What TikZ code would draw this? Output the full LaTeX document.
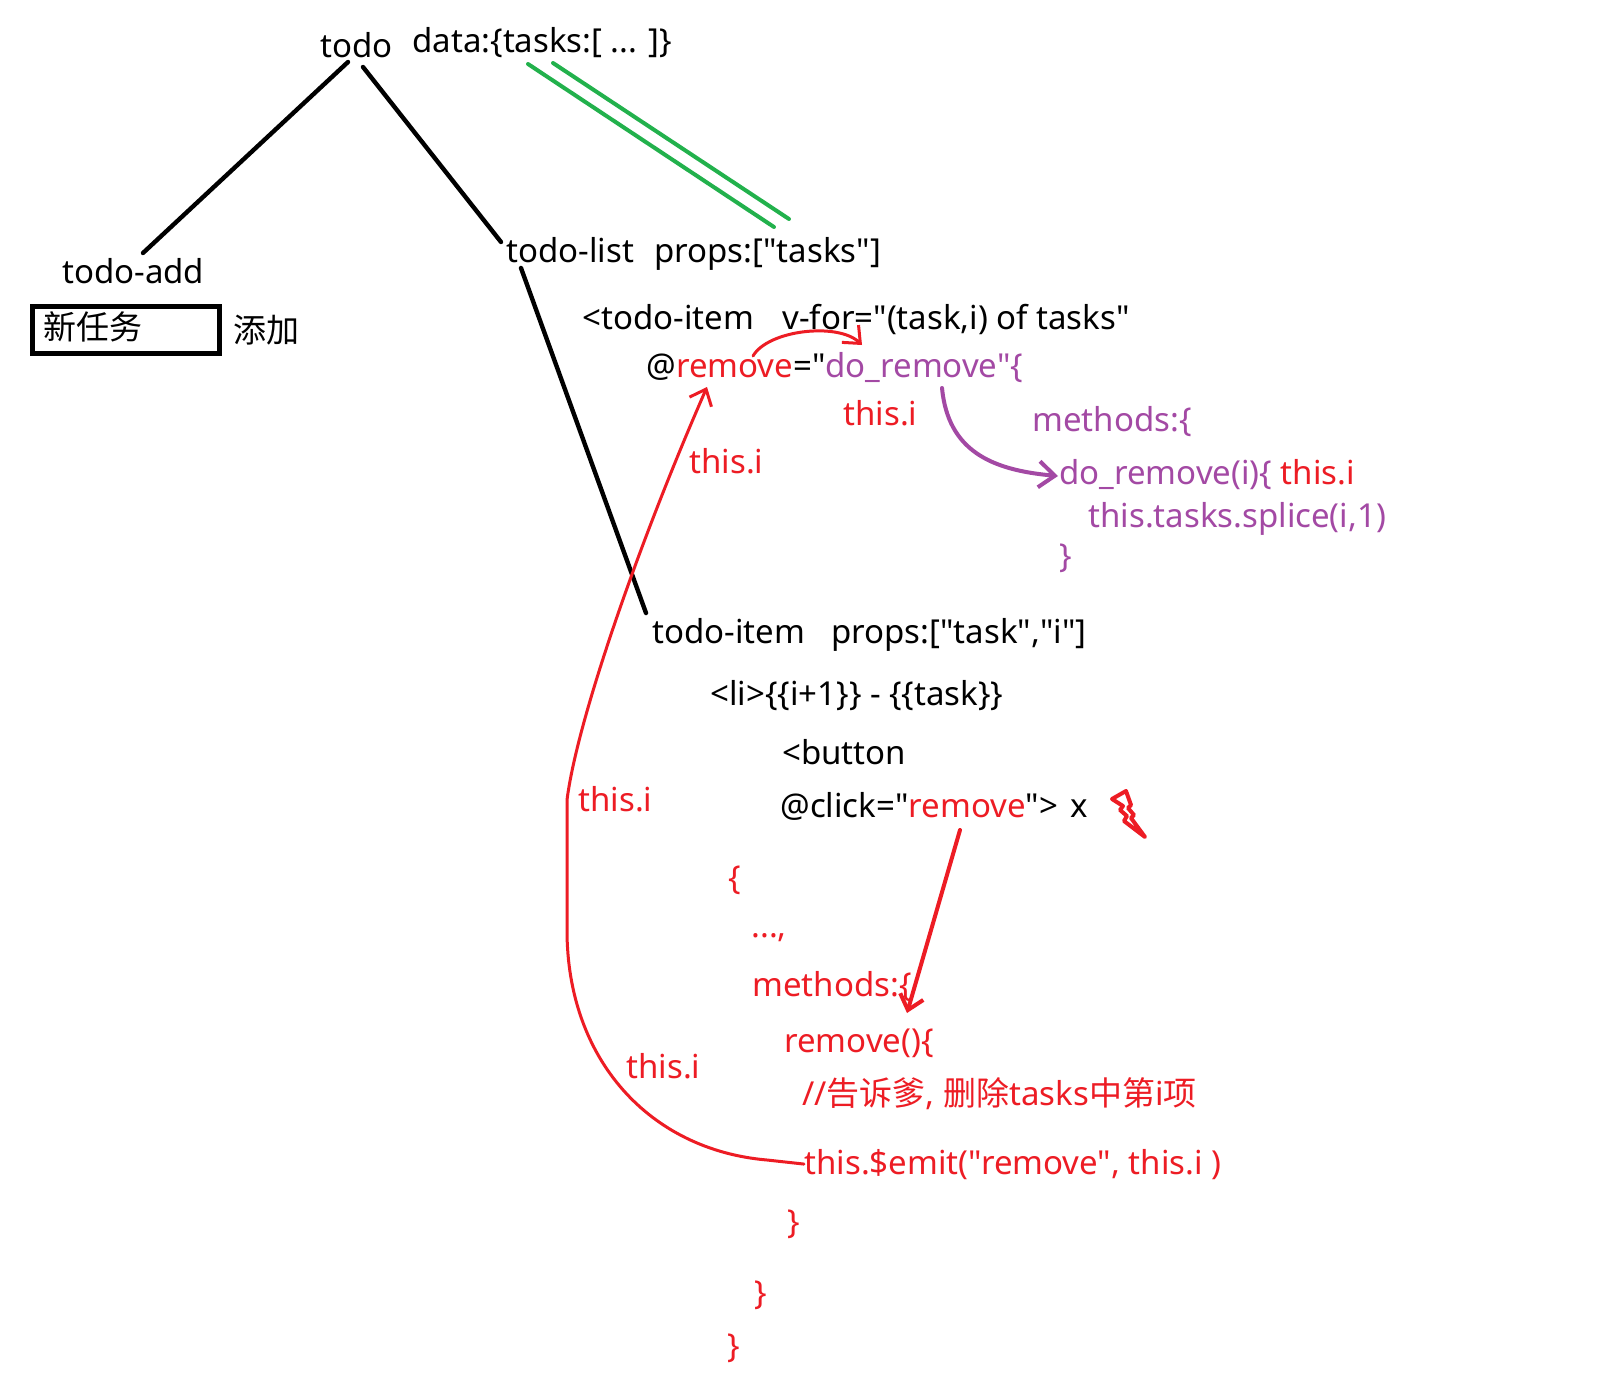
\documentclass[tikz,border=0pt]{standalone}
\usepackage{fontspec}
\setmainfont{Noto Sans}[Ligatures=TeXOff]
\newfontfamily\cjk{Noto Sans CJK SC}[Ligatures=TeXOff]
\usetikzlibrary{arrows.meta}

\definecolor{pred}{HTML}{ED1C24}
\definecolor{ppurple}{HTML}{A349A4}
\definecolor{pgreen}{HTML}{22B14C}

\tikzset{
  txt/.style={anchor=base west, inner sep=0pt, font=\fontsize{16.5}{20}\selectfont},
  treeline/.style={line width=2.2pt, line cap=round},
  linkline/.style={pgreen, line width=2pt, line cap=round},
  redpen/.style={pred, line width=1.5pt, line cap=round, line join=round},
  purplepen/.style={ppurple, line width=2pt, line cap=round, line join=round},
  barb/.style={-{Straight Barb[length=7pt,width=12pt,line width=1.5pt]}},
  inputbox/.style={draw, line width=2.5pt, minimum width=93.5pt, minimum height=23.5pt, inner sep=0pt}
}

\begin{document}
\begin{tikzpicture}[x=0.5pt, y=-0.5pt]
\fill[white] (0,0) rectangle (1602,1392);
\useasboundingbox (0,0) rectangle (1602,1392);

% component tree
\node[txt] (todo) at (320,57) {todo};
\node[txt] (data) at (412,53) {data:\{tasks:[ ... ]\}};
\node[txt] (add) at (62,283) {todo-add};
\node[inputbox] (input) at (126,330) {};
\node[txt] (newtask) at (43,339) {\cjk 新任务};
\node[txt] (addbtn) at (233,342) {\cjk 添加};
\node[txt] (list) at (506,262) {todo-list};
\node[txt] (listprops) at (654,262) {props:["tasks"]};

% todo-list template
\node[txt] (itemtag) at (582,329) {<todo-item};
\node[txt] (vfor) at (782,329) {v-for="(task,i) of tasks"};
\node[txt] (onremove) at (646,377) {@\textcolor{pred}{remove}="\textcolor{ppurple}{do\_remove"\{}};
\node[txt, text=pred] (ti1) at (843,425) {this.i};
\node[txt, text=ppurple] (pmethods) at (1032,431) {methods:\{};
\node[txt, text=pred] (ti2) at (689,473) {this.i};
\node[txt, text=ppurple] (doremove) at (1059,484) {do\_remove(i)\{ \textcolor{pred}{this.i}};
\node[txt, text=ppurple] (splice) at (1088,527) {this.tasks.splice(i,1)};
\node[txt, text=ppurple] (pclose) at (1059,567) {\}};

% todo-item template
\node[txt] (item) at (652,643) {todo-item};
\node[txt] (itemprops) at (831,643) {props:["task","i"]};
\node[txt] (li) at (710,705) {<li>\{\{i+1\}\} - \{\{task\}\}};
\node[txt] (button) at (782,764) {<button};
\node[txt] (click) at (780,817) {@click="\textcolor{pred}{remove}">\hspace{0.1em} x};
\node[txt, text=pred] (ti3) at (578,811) {this.i};

% todo-item script
\node[txt, text=pred] (ob) at (728,889) {\{};
\node[txt, text=pred] (dots) at (751,937) {...,};
\node[txt, text=pred] (rmethods) at (752,996) {methods:\{};
\node[txt, text=pred] (rremove) at (784,1052) {remove()\{};
\node[txt, text=pred] (comment) at (802,1105) {//{\cjk 告诉爹}, {\cjk 删除}tasks{\cjk 中第}i{\cjk 项}};
\node[txt, text=pred] (emit) at (804,1174) {this.\$emit("remove", this.i )};
\node[txt, text=pred] (cb1) at (787,1233) {\}};
\node[txt, text=pred] (cb2) at (754,1304) {\}};
\node[txt, text=pred] (cb3) at (727,1357) {\}};
\node[txt, text=pred] (ti4) at (626,1078) {this.i};

% tree edges
\coordinate (todoA) at (348,62);
\coordinate (todoB) at (363,67);
\coordinate (addTop) at (143,253);
\coordinate (listTop) at (501,242);
\coordinate (listBot) at (521,268);
\coordinate (itemTop) at (646,613);
\draw[treeline] (todoA) -- (addTop);
\draw[treeline] (todoB) -- (listTop);
\draw[treeline] (listBot) -- (itemTop);

% data passed down as props
\coordinate (gA1) at (528,64);
\coordinate (gA2) at (774,227);
\coordinate (gB1) at (553,63);
\coordinate (gB2) at (789,219);
\draw[linkline] (gA1) -- (gA2);
\draw[linkline] (gB1) -- (gB2);

% event binding
\coordinate (evS) at (753,356);
\coordinate (evE) at (862,345);
\draw[redpen, barb] (evS) .. controls (768,330) and (838,322) .. (evE);

% handler lookup
\coordinate (hS) at (942,388);
\coordinate (hE) at (1058,476);
\draw[purplepen, -{Straight Barb[length=8pt,width=13pt,line width=2pt]}] (hS) .. controls (948,450) and (990,470) .. (hE);

% click calls remove()
\coordinate (cS) at (960,830);
\coordinate (cE) at (907,1013);
\draw[pred, line width=2pt, line cap=round, -{Straight Barb[length=7pt,width=12pt,line width=2pt]}] (cS) -- (cE);

% emit travels back up to the parent
\coordinate (eA) at (767,1160);
\coordinate (eB) at (567,930);
\coordinate (eC) at (567,800);
\coordinate (eTip) at (707,387);
\draw[redpen, barb] (emit.west) -- (eA) .. controls (650,1150) and (567,1060) .. (eB) -- (eC)
  .. controls (577,720) and (640,540) .. (eTip);

% lightning mark
\draw[pred, line width=2pt, line join=round]
  (1112,799) -- (1126,791) -- (1131,805) -- (1128,808) -- (1134,815) -- (1131,818)
  -- (1145,837) -- (1124,821) -- (1127,816) -- (1120,810) -- (1123,806) -- cycle;
\end{tikzpicture}
\end{document}
